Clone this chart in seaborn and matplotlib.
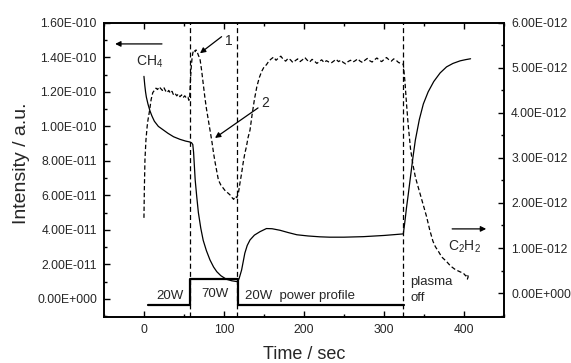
import numpy as np
import pandas as pd
import matplotlib
matplotlib.use("Agg")
import matplotlib.pyplot as plt
from matplotlib.ticker import MultipleLocator, FixedLocator, FuncFormatter
import seaborn as sns

# ---------------- data ----------------
# CH4 signal (left axis), units of 1e-11
ch4_time = [0, 1, 2, 3, 5, 7.5, 10, 13, 18, 24, 30, 37, 45, 52, 57, 59.5,
            61, 62, 64, 66, 68, 71, 74, 78, 82.5, 87, 91, 96, 103, 110, 117,
            119, 122, 126, 129, 132.5, 138, 145, 153, 160, 170, 180, 191, 205,
            220, 232, 250, 274, 300, 324, 326, 328, 330, 333, 336, 339, 344,
            349, 355, 362, 370, 378, 386, 395, 402, 408]
ch4_vals = [12.9, 12.4, 12.0, 11.7, 11.3, 10.9, 10.6, 10.3, 10.0, 9.8, 9.6,
            9.4, 9.25, 9.15, 9.1, 9.05,
            8.95, 8.5, 6.9, 5.9, 5.0, 4.1, 3.4, 2.8, 2.26, 1.85, 1.58, 1.35,
            1.14, 1.05, 1.0,
            1.2, 1.68, 2.65, 3.1, 3.42, 3.7, 3.9, 4.08, 4.07, 3.98, 3.85, 3.72,
            3.65, 3.6, 3.58, 3.58, 3.61, 3.68, 3.77, 4.5, 5.3, 6.0, 7.1, 8.2,
            9.2, 10.4, 11.3, 12.0, 12.6, 13.1, 13.45, 13.65, 13.8, 13.87, 13.92]

# C2H2 signal (right axis), units of 1e-12
c2h2_time_a = [0, 0.5, 1.25, 2.5, 4, 5, 7, 9, 11,
               13, 15, 17, 19, 21, 23, 25, 27, 29, 31, 33, 35, 37, 39, 41, 43,
               45, 47, 49, 51, 53, 55, 56,
               57, 58, 59, 60, 61, 62, 63, 64, 65, 66, 67, 68, 70, 72, 74, 76,
               78, 80, 82.5, 85, 87, 89, 91, 93, 96, 99, 102, 105, 107.5, 110,
               112, 114, 116, 118, 120, 122, 124, 126, 128, 130, 132.5, 135,
               138, 141, 144, 147, 150, 153, 156]
c2h2_vals_a = [1.67, 2.3, 2.96, 3.4, 3.7, 3.84, 4.05, 4.3, 4.45,
               4.5, 4.55, 4.52, 4.58, 4.54, 4.5, 4.56, 4.49, 4.45, 4.5, 4.44,
               4.48, 4.4, 4.43, 4.38, 4.42, 4.36, 4.40, 4.34, 4.38, 4.33, 4.35,
               4.28,
               4.3, 4.7, 5.0, 5.2, 5.33, 5.38, 5.4, 5.36, 5.4, 5.37, 5.33, 5.28,
               5.2, 4.95, 4.65, 4.36, 4.1, 3.88, 3.62, 3.35, 3.1, 2.89, 2.7,
               2.51, 2.4, 2.33, 2.26, 2.22, 2.18, 2.12, 2.08, 2.15, 2.12, 2.22,
               2.45, 2.66, 2.9, 3.1, 3.25, 3.45, 3.62, 3.95, 4.3, 4.58, 4.78,
               4.92, 5.02, 5.07, 5.15]
c2h2_time_b = list(range(159, 323, 3))
c2h2_vals_b = [5.20, 5.24, 5.17, 5.22, 5.26, 5.19, 5.15, 5.21, 5.18, 5.12, 5.16,
               5.20, 5.14, 5.18, 5.23, 5.17, 5.13, 5.19, 5.15, 5.10, 5.14, 5.18,
               5.12, 5.16, 5.13, 5.11, 5.15, 5.19, 5.14, 5.17, 5.12, 5.09, 5.14,
               5.17, 5.13, 5.16, 5.20, 5.15, 5.12, 5.17, 5.21, 5.16, 5.13, 5.18,
               5.22, 5.17, 5.14, 5.19, 5.23, 5.18, 5.15, 5.20, 5.17, 5.12, 5.10]
c2h2_time_c = [324, 326, 328, 330, 333, 336, 339, 341, 345, 349, 353, 357, 361,
               364, 368, 372, 378, 383, 389, 395, 399, 402, 404, 405, 404, 402]
c2h2_vals_c = [5.08, 4.7, 4.2, 3.75, 3.2, 2.85, 2.58, 2.45, 2.2, 1.95, 1.7,
               1.4, 1.15, 1.03, 0.92, 0.8, 0.7, 0.6, 0.52, 0.47, 0.44, 0.38,
               0.42, 0.36, 0.31, 0.33]

# power profile (drawn on the left axis), units of 1e-11
power_time = [5, 57.5, 57.5, 117, 117, 325]
power_vals = [-0.35, -0.35, 1.16, 1.16, -0.35, -0.35]

event_times = [57, 116.5, 324]

# axis ticks
left_ticks = [0, 2e-11, 4e-11, 6e-11, 8e-11, 1.0e-10, 1.2e-10, 1.4e-10, 1.6e-10]
right_ticks = [0, 1e-12, 2e-12, 3e-12, 4e-12, 5e-12, 6e-12]

x_label = "Time / sec"
y_label = "Intensity / a.u."

# ---------------- styling ----------------
sns.set_theme(style="ticks")
plt.rcParams["font.family"] = ["Liberation Sans", "DejaVu Sans"]
plt.rcParams["mathtext.fontset"] = "custom"
plt.rcParams["mathtext.rm"] = "Liberation Sans"
plt.rcParams["mathtext.it"] = "Liberation Sans"

fig = plt.figure(figsize=(5.71, 3.63), dpi=100)
ax = fig.add_axes([0.182, 0.127, 0.883 - 0.182, 0.937 - 0.127])
ax2 = ax.twinx()

df_ch4 = pd.DataFrame({"t": ch4_time, "v": np.array(ch4_vals) * 1e-11})
df_pow = pd.DataFrame({"t": power_time, "v": np.array(power_vals) * 1e-11})
c2t = c2h2_time_a + c2h2_time_b + c2h2_time_c
c2v = c2h2_vals_a + c2h2_vals_b + c2h2_vals_c
df_c2 = pd.DataFrame({"t": c2t, "v": np.array(c2v) * 1e-12})

sns.lineplot(data=df_ch4, x="t", y="v", ax=ax, color="black", lw=0.9,
             sort=False, estimator=None)
sns.lineplot(data=df_pow, x="t", y="v", ax=ax, color="black", lw=1.6,
             sort=False, estimator=None)
sns.lineplot(data=df_c2, x="t", y="v", ax=ax2, color="black", lw=0.9,
             linestyle=(0, (3.5, 2)), sort=False, estimator=None)

for t in event_times:
    ax.axvline(t, color="black", lw=0.9, linestyle=(0, (4, 2.5)))

ax.set_xlim(-50, 450)
ax.set_ylim(-1.04e-11, 1.6e-10)
ax2.set_ylim(-0.53e-12, 6e-12)


def sci_fmt(v, pos):
    if abs(v) < 1e-30:
        return "0.00E+000"
    exp = int(np.floor(np.log10(abs(v))))
    mant = v / 10 ** exp
    if round(mant, 2) >= 10:
        mant /= 10
        exp += 1
    sign = "+" if exp >= 0 else "-"
    return f"{mant:.2f}E{sign}{abs(exp):03d}"


ax.xaxis.set_major_locator(FixedLocator([0, 100, 200, 300, 400]))
ax.xaxis.set_minor_locator(FixedLocator([-50, 50, 150, 250, 350, 450]))
ax.yaxis.set_major_locator(FixedLocator(left_ticks))
ax.yaxis.set_minor_locator(FixedLocator([t + 1e-11 for t in left_ticks[:-1]] + [-1e-11]))
ax2.yaxis.set_major_locator(FixedLocator(right_ticks))
ax2.yaxis.set_minor_locator(FixedLocator([t + 0.5e-12 for t in right_ticks[:-1]] + [-0.5e-12]))
ax.yaxis.set_major_formatter(FuncFormatter(sci_fmt))
ax2.yaxis.set_major_formatter(FuncFormatter(sci_fmt))
ax.yaxis.offsetText.set_visible(False)
ax2.yaxis.offsetText.set_visible(False)

ax.tick_params(axis="x", which="both", direction="in", top=True, bottom=True,
               labelsize=8.7, pad=5)
ax.tick_params(axis="y", which="both", direction="in", left=True, right=False,
               labelsize=8.7, pad=5)
ax2.tick_params(axis="y", which="both", direction="in", right=True,
                labelsize=8.7, pad=5)
for a in (ax, ax2):
    a.tick_params(which="major", length=4, width=1, color="black")
    a.tick_params(which="minor", length=2.5, width=1, color="black")
    for s in a.spines.values():
        s.set_linewidth(1.2)
        s.set_color("black")

ax.set_xlabel(x_label, fontsize=13)
ax.set_ylabel(y_label, fontsize=14)
ax2.set_ylabel("")
ax.yaxis.set_label_coords(-0.185, 0.524)
ax.xaxis.set_label_coords(0.5, -0.098)

# annotations
arrow_kw = dict(arrowstyle="-|>", color="black", lw=0.9, mutation_scale=8,
                shrinkA=0, shrinkB=0)
ax.annotate("", xy=(70, 14.24e-11), xytext=(97, 15.2e-11), arrowprops=arrow_kw)
ax.text(106, 14.97e-11, "1", fontsize=10, ha="center", va="center")
ax.annotate("", xy=(88.75, 9.33e-11), xytext=(142.5, 11.07e-11), arrowprops=arrow_kw)
ax.text(151.5, 11.36e-11, "2", fontsize=10, ha="center", va="center")
ax.annotate("", xy=(-36, 14.78e-11), xytext=(22.5, 14.78e-11), arrowprops=arrow_kw)
ax.text(7.5, 13.74e-11, r"CH$_\mathregular{4}$", fontsize=10, ha="center", va="center")
ax.annotate("", xy=(427.5, 4.06e-11), xytext=(385, 4.06e-11), arrowprops=arrow_kw)
ax.text(401, 3.01e-11, r"C$_\mathregular{2}$H$_\mathregular{2}$", fontsize=10,
        ha="center", va="center")

ax.text(32.5, 0.17e-11, "20W", fontsize=9.5, ha="center", va="center")
ax.text(88.75, 0.29e-11, "70W", fontsize=9.5, ha="center", va="center")
ax.text(126, 0.17e-11, "20W  power profile", fontsize=9.5, ha="left", va="center")
ax.text(332.5, 0.99e-11, "plasma", fontsize=9.5, ha="left", va="center")
ax.text(332.5, 0.06e-11, "off", fontsize=9.5, ha="left", va="center")

fig.savefig("out.png", dpi=100)
